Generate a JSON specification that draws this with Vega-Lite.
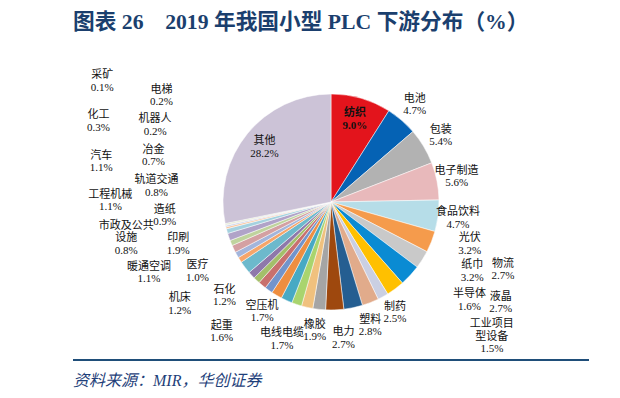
{
  "$schema": "https://vega.github.io/schema/vega-lite/v6.json",
  "padding": {"left": 73, "top": 12, "right": 0, "bottom": 0},
  "bounds": "flush",
  "spacing": 17,
  "title": {"text": "图表 26　2019 年我国小型 PLC 下游分布（%）", "anchor": "start", "frame": "group", "font": "Liberation Serif, Noto Sans CJK SC", "fontSize": 21.7, "fontWeight": "bold", "color": "#1B3F6E", "offset": 28},
  "config": {"view": {"stroke": null}, "text": {"font": "Liberation Serif, Noto Sans CJK SC", "fontSize": 11, "color": "#111111", "lineBreak": "\n", "lineHeight": 12.5, "dy": -6.25}},
  "vconcat": [
    {
      "width": 516,
      "height": 280,
      "data": {"values": [
        {"name": "纺织", "v": 9.0},
        {"name": "电池", "v": 4.7},
        {"name": "包装", "v": 5.4},
        {"name": "电子制造", "v": 5.6},
        {"name": "食品饮料", "v": 4.7},
        {"name": "光伏", "v": 3.2},
        {"name": "物流", "v": 2.7},
        {"name": "纸巾", "v": 3.2},
        {"name": "液晶", "v": 2.7},
        {"name": "半导体", "v": 1.6},
        {"name": "制药", "v": 2.5},
        {"name": "塑料", "v": 2.8},
        {"name": "电力", "v": 2.7},
        {"name": "橡胶", "v": 1.9},
        {"name": "电线电缆", "v": 1.7},
        {"name": "工业项目型设备", "v": 1.5},
        {"name": "空压机", "v": 1.7},
        {"name": "起重", "v": 1.6},
        {"name": "石化", "v": 1.2},
        {"name": "机床", "v": 1.2},
        {"name": "医疗", "v": 1.0},
        {"name": "暖通空调", "v": 1.1},
        {"name": "印刷", "v": 1.9},
        {"name": "市政及公共设施", "v": 0.8},
        {"name": "造纸", "v": 0.9},
        {"name": "工程机械", "v": 1.1},
        {"name": "轨道交通", "v": 0.8},
        {"name": "汽车", "v": 1.1},
        {"name": "冶金", "v": 0.7},
        {"name": "化工", "v": 0.3},
        {"name": "机器人", "v": 0.2},
        {"name": "采矿", "v": 0.1},
        {"name": "电梯", "v": 0.2},
        {"name": "其他", "v": 28.2}
      ]},
      "transform": [
        {"window": [{"op": "row_number", "as": "i"}]},
        {"calculate": "(datum.name == '市政及公共设施' ? '市政及公共\\n设施' : datum.name == '工业项目型设备' ? '工业项目\\n型设备' : datum.name) + '\\n' + format(datum.v, '.1f') + '%'", "as": "lab"}
      ],
      "layer": [
        {
          "mark": {"type": "arc", "outerRadius": 108, "stroke": "#ffffff", "strokeWidth": 0.5},
          "encoding": {
            "theta": {"field": "v", "type": "quantitative", "stack": true},
            "order": {"field": "i", "type": "quantitative"},
            "color": {"field": "name", "type": "nominal", "legend": null, "scale": {
              "domain": ["纺织","电池","包装","电子制造","食品饮料","光伏","物流","纸巾","液晶","半导体","制药","塑料","电力","橡胶","电线电缆","工业项目型设备","空压机","起重","石化","机床","医疗","暖通空调","印刷","市政及公共设施","造纸","工程机械","轨道交通","汽车","冶金","化工","机器人","采矿","电梯","其他"],
              "range": ["#E3141C","#0562B4","#B2B2B2","#E8B9BB","#B6DDE8","#F59B4C","#C9C9C9","#0A8BD3","#FFC000","#CACFE2","#E1AB8B","#255E91","#9E480E","#A5A5A5","#F0C17E","#A9D46E","#47A9C4","#EE8E40","#7294CB","#C8706E","#A3BF6A","#8E78AA","#6DB9CC","#F6A56A","#A3B5DB","#D4A0A2","#BFD39D","#B0A3C8","#A4D1DF","#F9C59E","#B9C7E5","#E6C5C6","#D9E4C3","#CCC3D7"]
            }}
          }
        },
        {
          "transform": [{"calculate": "datum.name == '纺织' ? datum.lab : ''", "as": "t"}],
          "mark": {"type": "text", "radius": 86, "fontWeight": "bold"},
          "encoding": {
            "theta": {"field": "v", "type": "quantitative", "stack": true},
            "order": {"field": "i", "type": "quantitative"},
            "detail": {"field": "name"},
            "text": {"field": "t"}
          }
        },
        {
          "transform": [{"calculate": "datum.name == '其他' ? datum.lab : ''", "as": "t"}],
          "mark": {"type": "text", "radius": 86},
          "encoding": {
            "theta": {"field": "v", "type": "quantitative", "stack": true},
            "order": {"field": "i", "type": "quantitative"},
            "detail": {"field": "name"},
            "text": {"field": "t"}
          }
        },
        {
          "transform": [{"calculate": "indexof(['电池','包装','电子制造','食品饮料'], datum.name) >= 0 ? datum.lab : ''", "as": "t"}],
          "mark": {"type": "text", "radius": 128},
          "encoding": {
            "theta": {"field": "v", "type": "quantitative", "stack": true},
            "order": {"field": "i", "type": "quantitative"},
            "detail": {"field": "name"},
            "text": {"field": "t"}
          }
        },
        {
          "transform": [
            {"filter": {"field": "name", "oneOf": ["光伏","物流","纸巾","液晶","半导体","工业项目型设备"]}},
            {"window": [{"op": "row_number", "as": "k"}], "sort": [{"field": "i"}]},
            {"filter": "datum.k % 2 == 1"}
          ],
          "mark": {"type": "text"},
          "encoding": {
            "theta": {"field": "k", "type": "quantitative", "stack": null, "scale": {"zero": false, "domain": [1, 6], "range": [1.86750, 2.26893]}},
            "radius": {"field": "k", "type": "quantitative", "scale": {"type": "linear", "zero": false, "domain": [1, 5], "range": [145, 170]}},
            "text": {"field": "lab"}
          }
        },
        {
          "transform": [
            {"filter": {"field": "name", "oneOf": ["光伏","物流","纸巾","液晶","半导体","工业项目型设备"]}},
            {"window": [{"op": "row_number", "as": "k"}], "sort": [{"field": "i"}]},
            {"filter": "datum.k % 2 == 0 && datum.k < 6"}
          ],
          "mark": {"type": "text"},
          "encoding": {
            "theta": {"field": "k", "type": "quantitative", "stack": null, "scale": {"zero": false, "domain": [1, 6], "range": [1.86750, 2.26893]}},
            "radius": {"field": "k", "type": "quantitative", "scale": {"type": "linear", "zero": false, "domain": [2, 6], "range": [185, 210]}},
            "text": {"field": "lab"}
          }
        },
        {
          "transform": [
            {"filter": {"field": "name", "oneOf": ["光伏","物流","纸巾","液晶","半导体","工业项目型设备"]}},
            {"window": [{"op": "row_number", "as": "k"}], "sort": [{"field": "i"}]},
            {"filter": "datum.k == 6"}
          ],
          "mark": {"type": "text", "dy": -12.5},
          "encoding": {
            "theta": {"field": "k", "type": "quantitative", "stack": null, "scale": {"zero": false, "domain": [1, 6], "range": [1.86750, 2.26893]}},
            "radius": {"field": "k", "type": "quantitative", "scale": {"type": "linear", "zero": false, "domain": [2, 6], "range": [185, 210]}},
            "text": {"field": "lab"}
          }
        },
        {
          "transform": [
            {"filter": {"field": "name", "oneOf": ["制药","塑料","电力","橡胶","电线电缆","空压机"]}},
            {"window": [{"op": "row_number", "as": "k"}], "sort": [{"field": "i"}]},
            {"filter": "datum.k % 2 == 1"}
          ],
          "mark": {"type": "text"},
          "encoding": {
            "theta": {"field": "k", "type": "quantitative", "stack": null, "scale": {"zero": false, "domain": [1, 6], "range": [2.61799, 3.70010]}},
            "radius": {"field": "k", "type": "quantitative", "scale": {"type": "linear", "zero": false, "domain": [1, 5], "range": [128, 146]}},
            "text": {"field": "lab"}
          }
        },
        {
          "transform": [
            {"filter": {"field": "name", "oneOf": ["制药","塑料","电力","橡胶","电线电缆","空压机"]}},
            {"window": [{"op": "row_number", "as": "k"}], "sort": [{"field": "i"}]},
            {"filter": "datum.k % 2 == 0"}
          ],
          "mark": {"type": "text", "radius": 130},
          "encoding": {
            "theta": {"field": "k", "type": "quantitative", "stack": null, "scale": {"zero": false, "domain": [1, 6], "range": [2.61799, 3.70010]}},
            "text": {"field": "lab"}
          }
        },
        {
          "transform": [
            {"filter": {"field": "name", "oneOf": ["起重","石化","机床","医疗","暖通空调","印刷","市政及公共设施","造纸","工程机械","轨道交通","汽车","冶金","化工","机器人","采矿","电梯"]}},
            {"window": [{"op": "row_number", "as": "k"}], "sort": [{"field": "i"}]},
            {"filter": "datum.k % 2 == 1 && datum.name != '市政及公共设施'"}
          ],
          "mark": {"type": "text"},
          "encoding": {
            "theta": {"field": "k", "type": "quantitative", "stack": null, "scale": {"type": "pow", "exponent": 0.7, "zero": false, "domain": [1, 16], "range": [3.83972, 5.27089]}},
            "radius": {"field": "k", "type": "quantitative", "scale": {"type": "linear", "zero": false, "domain": [1, 16], "range": [170, 265]}},
            "text": {"field": "lab"}
          }
        },
        {
          "transform": [
            {"filter": {"field": "name", "oneOf": ["起重","石化","机床","医疗","暖通空调","印刷","市政及公共设施","造纸","工程机械","轨道交通","汽车","冶金","化工","机器人","采矿","电梯"]}},
            {"window": [{"op": "row_number", "as": "k"}], "sort": [{"field": "i"}]},
            {"filter": "datum.name == '市政及公共设施'"}
          ],
          "mark": {"type": "text", "dy": -12.5},
          "encoding": {
            "theta": {"field": "k", "type": "quantitative", "stack": null, "scale": {"type": "pow", "exponent": 0.7, "zero": false, "domain": [1, 16], "range": [3.83972, 5.27089]}},
            "radius": {"field": "k", "type": "quantitative", "scale": {"type": "linear", "zero": false, "domain": [1, 16], "range": [170, 265]}},
            "text": {"field": "lab"}
          }
        },
        {
          "transform": [
            {"filter": {"field": "name", "oneOf": ["起重","石化","机床","医疗","暖通空调","印刷","市政及公共设施","造纸","工程机械","轨道交通","汽车","冶金","化工","机器人","采矿","电梯"]}},
            {"window": [{"op": "row_number", "as": "k"}], "sort": [{"field": "i"}]},
            {"filter": "datum.k % 2 == 0"}
          ],
          "mark": {"type": "text"},
          "encoding": {
            "theta": {"field": "k", "type": "quantitative", "stack": null, "scale": {"type": "pow", "exponent": 0.7, "zero": false, "domain": [1, 16], "range": [3.83972, 5.27089]}},
            "radius": {"field": "k", "type": "quantitative", "scale": {"type": "linear", "zero": false, "domain": [1, 16], "range": [138, 200]}},
            "text": {"field": "lab"}
          }
        }
      ],
      "resolve": {"scale": {"theta": "independent", "radius": "independent"}}
    },
    {
      "width": 516,
      "height": 2,
      "view": {"fill": "#1F4E79", "stroke": null},
      "data": {"values": [{}]},
      "mark": {"type": "text"},
      "encoding": {"text": {"value": ""}},
      "title": {"text": "资料来源：MIR，华创证券", "orient": "bottom", "anchor": "start", "frame": "group", "font": "Liberation Serif, Noto Sans CJK SC", "fontSize": 16, "fontStyle": "italic", "fontWeight": "normal", "color": "#1F3F7A", "offset": 12}
    }
  ]
}
